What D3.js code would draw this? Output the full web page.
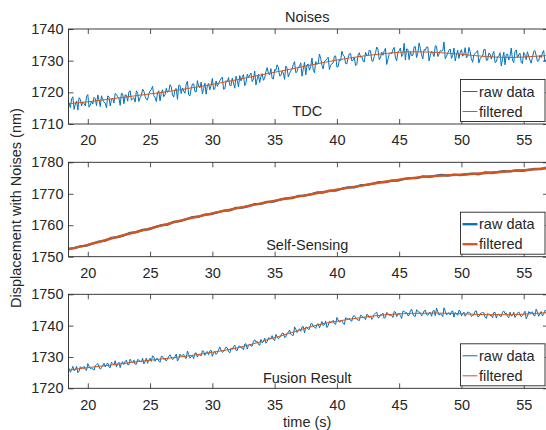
<!DOCTYPE html>
<html>
<head>
<meta charset="utf-8">
<script src="https://cdn.jsdelivr.net/npm/d3@7"></script>
<style>
body { margin: 0; background: #fff; }
svg { display: block; }
text { font-family: "Liberation Sans", Arial, sans-serif; fill: #262626; }
</style>
</head>
<body>
<svg id="chart"></svg>
<script>
var width = 546;
var height = 430;

// sample times of the raw records
var rawStart = 18.4;
var rawStep = 0.1;
var selfRawStep = 0.5;

var xTicks = [20, 25, 30, 35, 40, 45, 50, 55];
var tdcTicks = [1710, 1720, 1730, 1740];
var selfTicks = [1750, 1760, 1770, 1780];
var fusionTicks = [1720, 1730, 1740, 1750];

var filtTime = [18.4, 20, 22, 24, 26, 28, 30, 32, 34, 36, 38, 40, 42, 44, 46, 48, 50, 52, 54, 56, 57];

var tdcFiltered = [1716.4, 1717.0, 1718.0, 1719.0, 1720.0, 1721.2, 1722.5, 1724.0, 1725.6, 1727.1,
  1728.7, 1730.2, 1731.4, 1732.3, 1732.8, 1732.6, 1732.0, 1731.3, 1731.0, 1731.4, 1731.6];

var selfFiltered = [1752.3, 1753.8, 1755.9, 1758.0, 1760.0, 1762.0, 1763.8, 1765.4, 1767.0, 1768.5,
  1769.9, 1771.3, 1772.6, 1773.9, 1775.0, 1775.7, 1776.1, 1776.6, 1777.2, 1777.8, 1778.2];

var fusionFiltered = [1725.8, 1726.6, 1727.5, 1728.5, 1729.4, 1730.3, 1731.5, 1732.9, 1735.0, 1737.3,
  1739.8, 1741.4, 1742.6, 1743.5, 1743.9, 1744.0, 1743.8, 1743.5, 1743.5, 1743.9, 1744.2];

var tdcRaw = [
  1717.5, 1716.4, 1715.2, 1717.9, 1718.6, 1714.6, 1716.3, 1717.3, 1714.4, 1718.3, 1717.8, 1715.7, 1717.0, 1716.5, 1715.7, 1718.7, 1719.3, 1715.3, 1716.0, 1717.2,
  1716.3, 1718.4, 1718.0, 1715.8, 1719.2, 1717.6, 1715.5, 1718.9, 1717.7, 1716.9, 1716.6, 1715.1, 1718.9, 1718.5, 1715.7, 1717.8, 1718.1, 1716.6, 1719.7, 1719.3,
  1718.6, 1718.2, 1715.9, 1719.7, 1719.5, 1716.4, 1719.2, 1719.1, 1717.2, 1720.1, 1720.5, 1717.5, 1718.0, 1718.3, 1716.9, 1720.5, 1719.7, 1717.1, 1718.3, 1719.0,
  1721.0, 1720.4, 1718.7, 1717.8, 1717.6, 1719.6, 1720.4, 1720.9, 1721.9, 1718.9, 1718.4, 1717.1, 1719.9, 1720.5, 1717.3, 1719.8, 1720.8, 1718.6, 1719.2, 1721.3,
  1720.0, 1720.3, 1722.4, 1721.8, 1719.2, 1718.5, 1720.9, 1721.2, 1717.8, 1722.2, 1722.2, 1719.6, 1721.4, 1720.4, 1719.7, 1722.6, 1723.5, 1719.2, 1718.9, 1721.1,
  1722.6, 1722.7, 1720.3, 1720.1, 1723.7, 1721.9, 1721.4, 1723.2, 1719.5, 1721.2, 1722.9, 1719.4, 1722.1, 1722.8, 1720.8, 1722.1, 1724.4, 1720.9, 1721.1, 1723.6,
  1721.9, 1722.8, 1723.6, 1724.3, 1724.8, 1721.0, 1721.1, 1723.7, 1723.3, 1724.7, 1722.2, 1722.1, 1724.5, 1722.9, 1721.3, 1725.1, 1723.7, 1721.7, 1725.3, 1723.6,
  1724.8, 1725.6, 1722.1, 1723.0, 1725.7, 1724.8, 1725.4, 1726.1, 1723.4, 1724.1, 1726.7, 1722.3, 1724.2, 1725.7, 1723.1, 1725.0, 1725.9, 1723.8, 1724.5, 1726.5,
  1727.8, 1726.0, 1725.5, 1727.5, 1724.4, 1724.2, 1727.2, 1726.9, 1728.7, 1727.9, 1725.2, 1725.3, 1726.7, 1726.1, 1724.1, 1728.3, 1727.6, 1724.9, 1726.0, 1726.8,
  1727.3, 1728.8, 1729.7, 1726.2, 1726.5, 1728.0, 1728.2, 1729.3, 1725.1, 1727.3, 1729.5, 1725.5, 1728.7, 1728.9, 1727.0, 1728.2, 1730.8, 1727.0, 1726.2, 1729.7,
  1728.8, 1729.2, 1732.1, 1730.7, 1728.5, 1727.4, 1729.8, 1730.1, 1730.6, 1731.1, 1727.2, 1728.5, 1729.1, 1729.3, 1731.4, 1731.5, 1728.0, 1728.1, 1730.3, 1730.0,
  1733.0, 1731.7, 1731.4, 1729.1, 1729.0, 1730.9, 1732.2, 1732.2, 1729.9, 1730.2, 1731.0, 1728.4, 1728.8, 1731.8, 1732.5, 1731.1, 1731.3, 1729.9, 1729.6, 1732.6,
  1731.7, 1731.6, 1733.3, 1733.1, 1730.0, 1729.8, 1731.3, 1732.5, 1734.3, 1733.5, 1730.3, 1730.9, 1732.7, 1731.7, 1733.1, 1733.9, 1728.8, 1730.5, 1732.0, 1732.4,
  1732.2, 1733.5, 1734.2, 1730.9, 1730.0, 1732.7, 1733.1, 1734.0, 1731.3, 1732.0, 1735.5, 1730.2, 1733.7, 1733.6, 1730.3, 1732.9, 1731.6, 1731.7, 1734.4, 1734.4,
  1731.0, 1732.4, 1735.6, 1733.9, 1731.8, 1730.6, 1733.5, 1733.3, 1734.3, 1734.3, 1729.9, 1731.7, 1733.0, 1732.5, 1731.3, 1734.7, 1734.5, 1731.3, 1732.1, 1733.2,
  1733.0, 1733.2, 1735.9, 1730.6, 1731.4, 1732.4, 1733.3, 1733.7, 1730.7, 1731.7, 1734.0, 1729.9, 1731.8, 1733.3, 1730.7, 1732.6, 1733.5, 1731.4, 1732.1, 1734.1,
  1730.9, 1731.3, 1734.2, 1732.8, 1730.6, 1729.5, 1731.9, 1732.2, 1732.7, 1733.2, 1729.3, 1730.6, 1731.2, 1731.4, 1733.5, 1733.6, 1730.1, 1730.2, 1732.4, 1732.1,
  1730.5, 1732.0, 1732.9, 1729.4, 1729.7, 1731.2, 1731.4, 1732.5, 1728.3, 1730.5, 1732.7, 1728.7, 1731.9, 1732.1, 1730.2, 1731.4, 1734.0, 1730.2, 1729.4, 1732.9,
  1733.4, 1730.9, 1731.8, 1732.4, 1729.4, 1729.1, 1732.6, 1731.8, 1730.3, 1732.8, 1731.4, 1730.2, 1729.2, 1731.0, 1732.9, 1733.2, 1731.7, 1729.8, 1730.0, 1731.7,
  1731.0, 1732.4, 1733.2, 1729.8, 1730.2, 1731.6, 1731.8, 1732.9];

var selfRaw = [
  1752.5, 1752.7, 1753.3, 1753.5, 1754.2, 1754.8, 1755.1, 1756.0, 1756.2, 1756.8,
  1757.6, 1757.8, 1758.5, 1758.7, 1759.4, 1760.0, 1760.2, 1761.1, 1761.3, 1761.9,
  1762.6, 1762.7, 1763.4, 1763.5, 1764.1, 1764.6, 1764.7, 1765.5, 1765.6, 1766.1,
  1766.7, 1766.8, 1767.4, 1767.5, 1768.1, 1768.5, 1768.6, 1769.3, 1769.4, 1769.8,
  1770.4, 1770.4, 1771.0, 1771.0, 1771.6, 1772.0, 1772.0, 1772.7, 1772.8, 1773.2,
  1773.7, 1773.7, 1774.2, 1774.2, 1774.7, 1775.0, 1775.0, 1775.5, 1775.4, 1775.7,
  1776.0, 1775.8, 1776.1, 1775.9, 1776.2, 1776.4, 1776.2, 1776.8, 1776.6, 1776.9,
  1777.2, 1777.1, 1777.4, 1777.3, 1777.6, 1777.9, 1777.8, 1778.4];

var fusionRaw = [
  1726.2, 1726.3, 1725.1, 1726.0, 1727.0, 1725.6, 1725.9, 1727.0, 1725.0, 1725.5, 1726.9, 1726.5, 1726.6, 1727.0, 1726.0, 1725.7, 1727.9, 1727.0, 1726.3, 1726.4,
  1726.2, 1725.8, 1727.2, 1727.6, 1727.9, 1727.0, 1726.1, 1726.6, 1727.3, 1728.0, 1726.8, 1727.6, 1728.1, 1726.8, 1726.6, 1728.3, 1727.9, 1727.4, 1728.8, 1726.8,
  1727.9, 1728.3, 1726.6, 1728.0, 1728.5, 1727.6, 1728.5, 1729.0, 1727.5, 1727.5, 1729.3, 1728.5, 1728.1, 1729.0, 1727.7, 1727.7, 1729.2, 1729.0, 1728.6, 1728.4,
  1729.6, 1727.8, 1728.5, 1729.6, 1728.0, 1729.0, 1729.6, 1728.6, 1730.4, 1730.0, 1728.6, 1729.5, 1729.5, 1728.7, 1728.3, 1730.2, 1730.2, 1729.3, 1729.4, 1728.7,
  1729.4, 1730.2, 1730.7, 1729.9, 1729.2, 1729.5, 1730.2, 1730.9, 1728.7, 1729.4, 1730.9, 1730.3, 1730.6, 1730.8, 1729.8, 1729.5, 1731.9, 1730.8, 1729.6, 1730.2,
  1730.4, 1729.5, 1731.2, 1731.3, 1730.0, 1730.8, 1730.6, 1730.4, 1732.0, 1731.8, 1730.5, 1731.5, 1731.7, 1730.7, 1731.9, 1732.2, 1730.2, 1731.3, 1731.8, 1730.8,
  1731.3, 1732.3, 1733.2, 1732.1, 1731.5, 1731.7, 1732.4, 1733.2, 1732.9, 1731.7, 1731.3, 1732.8, 1732.4, 1733.3, 1733.8, 1732.1, 1732.1, 1733.4, 1733.5, 1732.9,
  1733.0, 1732.3, 1734.1, 1734.2, 1732.5, 1733.7, 1734.1, 1733.5, 1733.5, 1735.0, 1735.5, 1734.7, 1735.0, 1734.0, 1733.7, 1735.6, 1734.5, 1734.8, 1736.0, 1734.4,
  1734.9, 1736.1, 1736.0, 1735.9, 1736.8, 1735.6, 1735.2, 1737.2, 1736.5, 1735.8, 1736.1, 1736.9, 1737.6, 1737.6, 1736.2, 1736.4, 1737.6, 1737.8, 1738.6, 1737.3,
  1736.9, 1736.9, 1739.6, 1738.9, 1737.8, 1738.4, 1739.0, 1738.2, 1739.6, 1739.7, 1737.7, 1739.5, 1739.5, 1738.8, 1738.9, 1740.5, 1740.7, 1739.7, 1739.6, 1739.1,
  1740.4, 1740.6, 1739.3, 1740.3, 1741.3, 1740.0, 1740.3, 1741.5, 1739.4, 1740.0, 1741.4, 1741.1, 1741.2, 1741.7, 1740.6, 1740.4, 1742.6, 1741.8, 1741.1, 1741.3,
  1741.7, 1740.7, 1740.4, 1742.5, 1742.4, 1742.0, 1742.4, 1741.6, 1741.4, 1743.0, 1743.2, 1742.6, 1742.0, 1741.8, 1741.6, 1743.3, 1743.2, 1742.5, 1742.6, 1741.9,
  1743.6, 1743.4, 1742.5, 1743.1, 1742.0, 1742.6, 1743.6, 1744.0, 1744.3, 1742.5, 1742.6, 1743.5, 1743.5, 1744.0, 1742.3, 1742.7, 1744.2, 1743.9, 1743.3, 1743.3,
  1743.3, 1742.6, 1744.5, 1744.3, 1742.9, 1743.7, 1743.9, 1743.2, 1742.3, 1744.6, 1744.6, 1744.1, 1744.2, 1743.2, 1743.3, 1744.7, 1745.3, 1743.7, 1743.0, 1743.0,
  1745.1, 1744.5, 1744.3, 1744.1, 1743.1, 1743.6, 1744.7, 1744.9, 1743.5, 1743.3, 1744.1, 1744.2, 1743.0, 1744.6, 1744.9, 1743.2, 1745.6, 1744.4, 1743.4, 1743.7,
  1743.5, 1742.9, 1745.7, 1744.6, 1743.4, 1743.9, 1744.1, 1743.4, 1744.5, 1744.7, 1742.7, 1744.2, 1743.7, 1743.3, 1744.9, 1744.7, 1743.1, 1743.7, 1744.3, 1743.0,
  1743.6, 1744.3, 1744.3, 1743.9, 1742.9, 1743.3, 1743.4, 1744.6, 1744.7, 1742.9, 1742.9, 1743.8, 1744.0, 1744.2, 1744.1, 1742.7, 1742.3, 1743.9, 1743.6, 1743.2,
  1743.3, 1742.5, 1744.2, 1744.2, 1742.4, 1743.5, 1743.7, 1743.0, 1742.9, 1744.3, 1744.7, 1743.8, 1744.0, 1742.9, 1742.5, 1744.3, 1743.1, 1743.3, 1744.3, 1742.6,
  1743.2, 1744.0, 1744.4, 1743.7, 1742.8, 1743.2, 1743.8, 1744.6, 1742.2, 1743.0, 1744.5, 1744.0, 1744.2, 1744.4, 1743.3, 1743.1, 1745.3, 1744.3, 1743.0, 1743.7,
  1744.5, 1743.1, 1743.6, 1744.8, 1744.9, 1744.2, 1744.1, 1743.7];

var legendLabels = ["raw data", "filtered"];
var blue = "#0072BD";
var orange = "#D95319";
var axisColor = "#262626";

var panels = [
  {title: "TDC", ticks: tdcTicks, raw: tdcRaw, step: rawStep, filt: tdcFiltered, top: 29, bottom: 124, lw: 1, titleOff: 8},
  {title: "Self-Sensing", ticks: selfTicks, raw: selfRaw, step: selfRawStep, filt: selfFiltered, top: 162.3, bottom: 256.7, lw: 2.3, titleOff: 7},
  {title: "Fusion Result", ticks: fusionTicks, raw: fusionRaw, step: rawStep, filt: fusionFiltered, top: 294.3, bottom: 388.3, lw: 1, titleOff: 5.5}
];

var left = 68.5, right = 548;

var svg = d3.select("#chart")
    .attr("width", width)
    .attr("height", height);

var xScale = d3.scaleLinear()
    .domain([18.45, 56.95])
    .range([left, right]);

panels.forEach(function(p, k) {
  var yScale = d3.scaleLinear()
      .domain([p.ticks[0], p.ticks[p.ticks.length - 1]])
      .range([p.bottom, p.top]);

  var g = svg.append("g");

  g.append("clipPath")
      .attr("id", "clip" + k)
    .append("rect")
      .attr("x", left)
      .attr("y", p.top)
      .attr("width", right - left)
      .attr("height", p.bottom - p.top);

  var plot = g.append("g").attr("clip-path", "url(#clip" + k + ")");

  var rawLine = d3.line()
      .x((d, i) => xScale(rawStart + i * p.step))
      .y(d => yScale(d));
  var filtLine = d3.line()
      .x((d, i) => xScale(filtTime[i]))
      .y(d => yScale(d))
      .curve(d3.curveMonotoneX);

  plot.append("path")
      .attr("d", rawLine(p.raw))
      .attr("fill", "none")
      .attr("stroke", blue)
      .attr("stroke-width", p.lw)
      .attr("stroke-linejoin", "round");
  plot.append("path")
      .attr("d", filtLine(p.filt))
      .attr("fill", "none")
      .attr("stroke", orange)
      .attr("stroke-width", p.lw);

  // axes, ticks inward on all four sides
  var xAxis = d3.axisBottom(xScale).tickValues(xTicks).tickSize(-5).tickSizeOuter(0).tickPadding(11);
  var xAxisTop = d3.axisTop(xScale).tickValues(xTicks).tickSize(-5).tickSizeOuter(0).tickFormat("");
  var yAxis = d3.axisLeft(yScale).tickValues(p.ticks).tickSize(-5).tickSizeOuter(0).tickPadding(5).tickFormat(d3.format("d"));
  var yAxisRight = d3.axisRight(yScale).tickValues(p.ticks).tickSize(-5).tickSizeOuter(0).tickFormat("");

  [[xAxis, "translate(0," + p.bottom + ")"],
   [xAxisTop, "translate(0," + p.top + ")"],
   [yAxis, "translate(" + left + ",0)"],
   [yAxisRight, "translate(" + right + ",0)"]].forEach(function(a) {
    var ag = g.append("g")
        .attr("transform", a[1])
        .call(a[0])
        .attr("font-family", null)
        .attr("font-size", null);
    ag.select(".domain").remove();
    ag.selectAll(".tick line").attr("stroke", axisColor).attr("stroke-width", 0.8);
    ag.selectAll(".tick text").style("font-size", "14.5px").attr("fill", axisColor);
  });

  g.append("rect")
      .attr("x", left)
      .attr("y", p.top)
      .attr("width", right - left)
      .attr("height", p.bottom - p.top)
      .attr("fill", "none")
      .attr("stroke", axisColor)
      .attr("stroke-width", 0.9);

  g.append("text")
      .attr("x", (left + right) / 2 - 1)
      .attr("y", p.bottom - p.titleOff)
      .attr("text-anchor", "middle")
      .style("font-size", "14.5px")
      .text(p.title);

  // legend
  var lx = 460.5, ly = p.bottom - 44.5;
  var lg = g.append("g").attr("transform", "translate(" + lx + "," + ly + ")");
  lg.append("rect")
      .attr("width", 84.5)
      .attr("height", 42)
      .attr("fill", "#fff")
      .attr("stroke", axisColor)
      .attr("stroke-width", 0.9);
  legendLabels.forEach(function(lab, i) {
    var yy = 12 + i * 20;
    lg.append("line")
        .attr("x1", 2).attr("x2", 17)
        .attr("y1", yy).attr("y2", yy)
        .attr("stroke", i === 0 ? blue : orange)
        .attr("stroke-width", p.lw);
    lg.append("text")
        .attr("x", 18.5)
        .attr("y", yy)
        .attr("dy", "0.35em")
        .style("font-size", "14.5px")
        .text(lab);
  });
});

svg.append("text")
    .attr("x", (left + right) / 2 - 1)
    .attr("y", 22)
    .attr("text-anchor", "middle")
    .style("font-size", "14.5px")
    .text("Noises");

svg.append("text")
    .attr("x", (left + right) / 2 - 1)
    .attr("y", 427)
    .attr("text-anchor", "middle")
    .style("font-size", "14.5px")
    .text("time (s)");

svg.append("text")
    .attr("transform", "translate(21,208) rotate(-90)")
    .attr("text-anchor", "middle")
    .style("font-size", "14.5px")
    .text("Displacement with Noises (nm)");
</script>
</body>
</html>
